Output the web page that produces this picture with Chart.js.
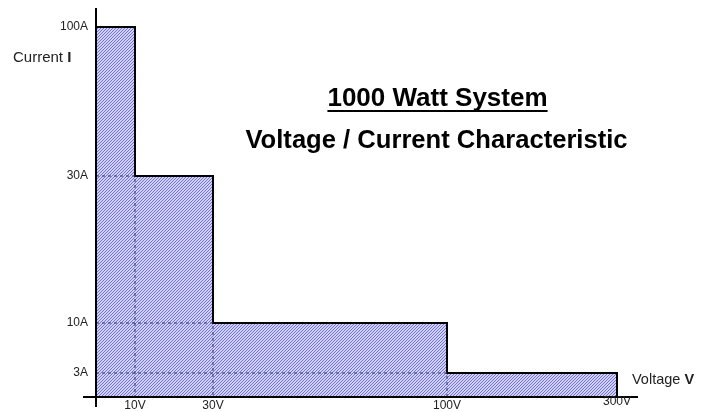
<!DOCTYPE html>
<html>
<head>
<meta charset="utf-8">
<script src="https://cdn.jsdelivr.net/npm/chart.js@4/dist/chart.umd.min.js"></script>
<style>
  body { margin: 0; background: #fff; }
  #wrap { width: 704px; height: 412px; position: relative; }
</style>
</head>
<body>
<div id="wrap"><canvas id="vcChart"></canvas></div>
<script>
// --- data ---
const voltages = [10, 30, 100, 300];
const currents = [100, 30, 10, 3];
const voltLabels = ['10V', '30V', '100V', '300V'];
const currLabels = ['100A', '30A', '10A', '3A'];

const FONT = "'Liberation Sans', Arial, sans-serif";

// --- piecewise scale: the drawing isn't to scale, so each tick has its own spacing ---
class WarpScale extends Chart.LinearScale {
    warp(v) {
        const vs = this.options.knots.values;
        const us = this.options.knots.units;
        let i = 1;
        while (i < vs.length - 1 && v > vs[i]) i++;
        const t = (v - vs[i - 1]) / (vs[i] - vs[i - 1]);
        return us[i - 1] + t * (us[i] - us[i - 1]);
    }
    getPixelForValue(value) {
        return super.getPixelForValue(this.warp(value));
    }
}
WarpScale.id = 'warp';
WarpScale.defaults = Chart.LinearScale.defaults;
Chart.register(WarpScale);

// hatch pattern ("////")
function makeHatch() {
    const c = document.createElement('canvas');
    c.width = 3; c.height = 3;
    const g = c.getContext('2d');
    g.fillStyle = '#d2d2f8';
    g.fillRect(0, 0, 3, 3);
    g.fillStyle = '#7272d4';
    for (let y = 0; y < 3; y++) g.fillRect(2 - y, y, 1, 1);
    return g.createPattern(c, 'repeat');
}

// step outline points
const stepPoints = [{ x: 0, y: currents[0] }];
voltages.forEach((v, i) => {
    stepPoints.push({ x: v, y: currents[i] });
    stepPoints.push({ x: v, y: i + 1 < currents.length ? currents[i + 1] : 0 });
});

// dashed guide lines (L shapes inside the area)
const guideSets = voltages.slice(0, -1).map((v, i) => ({
    data: [{ x: 0, y: currents[i + 1] }, { x: v, y: currents[i + 1] }, { x: v, y: 0 }],
    borderColor: '#2e2e6e',
    borderWidth: 1,
    borderDash: [3, 3],
    pointRadius: 0,
    fill: false,
    order: 1
}));

const decorPlugin = {
    id: 'decor',
    afterDatasetsDraw(chart) {
        const ctx = chart.ctx;
        const a = chart.chartArea;
        const xs = chart.scales.x, ys = chart.scales.y;
        const x0 = xs.getPixelForValue(0), y0 = ys.getPixelForValue(0);
        ctx.save();
        // axes
        ctx.strokeStyle = '#000';
        ctx.lineWidth = 2;
        ctx.beginPath();
        ctx.moveTo(a.left, y0); ctx.lineTo(a.right, y0);
        ctx.moveTo(x0, a.top); ctx.lineTo(x0, a.bottom);
        ctx.stroke();

        // tick labels
        ctx.fillStyle = '#222';
        ctx.font = '12px ' + FONT;
        ctx.textAlign = 'center';
        ctx.textBaseline = 'middle';
        voltages.forEach((v, i) => {
            const yy = i === voltages.length - 1 ? 402 : 406;
            ctx.fillText(voltLabels[i], xs.getPixelForValue(v), yy);
        });
        ctx.textAlign = 'right';
        currents.forEach((c, i) => {
            ctx.fillText(currLabels[i], x0 - 8, ys.getPixelForValue(c));
        });

        // axis names
        ctx.textAlign = 'left';
        ctx.font = '15px ' + FONT;
        ctx.fillText('Current ', 13, 58);
        let w = ctx.measureText('Current ').width;
        ctx.font = 'bold 15px ' + FONT;
        ctx.fillText('I', 13 + w, 58);

        ctx.font = '14.5px ' + FONT;
        ctx.fillText('Voltage ', 632, 380);
        w = ctx.measureText('Voltage ').width;
        ctx.font = 'bold 14.5px ' + FONT;
        ctx.fillText('V', 632 + w, 380);

        // titles
        ctx.fillStyle = '#000';
        ctx.textAlign = 'center';
        ctx.textBaseline = 'alphabetic';
        ctx.font = 'bold 26px ' + FONT;
        const t1 = '1000 Watt System';
        ctx.fillText(t1, 437.5, 106);
        const tw = ctx.measureText(t1).width;
        ctx.fillRect(437.5 - tw / 2, 110, tw, 2);
        ctx.font = 'bold 25.6px ' + FONT;
        ctx.fillText('Voltage / Current Characteristic', 436.5, 148);
        ctx.restore();
    }
};

const ctx = document.getElementById('vcChart').getContext('2d');

new Chart(ctx, {
    type: 'line',
    data: {
        datasets: [
            {
                data: stepPoints,
                borderColor: '#000',
                borderWidth: 2,
                backgroundColor: makeHatch(),
                fill: { value: 0 },
                pointRadius: 0,
                tension: 0,
                order: 2
            },
            ...guideSets
        ]
    },
    options: {
        responsive: true,
        maintainAspectRatio: false,
        animation: false,
        layout: { padding: { left: 83, right: 66, top: 8, bottom: 5 } },
        plugins: {
            legend: { display: false },
            tooltip: { enabled: false }
        },
        scales: {
            x: {
                type: 'warp', min: -13, max: 542, display: false,
                knots: { values: [0, ...voltages], units: [0, 39, 117, 351, 521] }
            },
            y: {
                type: 'warp', min: -10, max: 389, display: false,
                knots: { values: [0, ...currents.slice().reverse()], units: [0, 24, 74, 221, 370] }
            }
        }
    },
    plugins: [decorPlugin]
});
</script>
</body>
</html>
